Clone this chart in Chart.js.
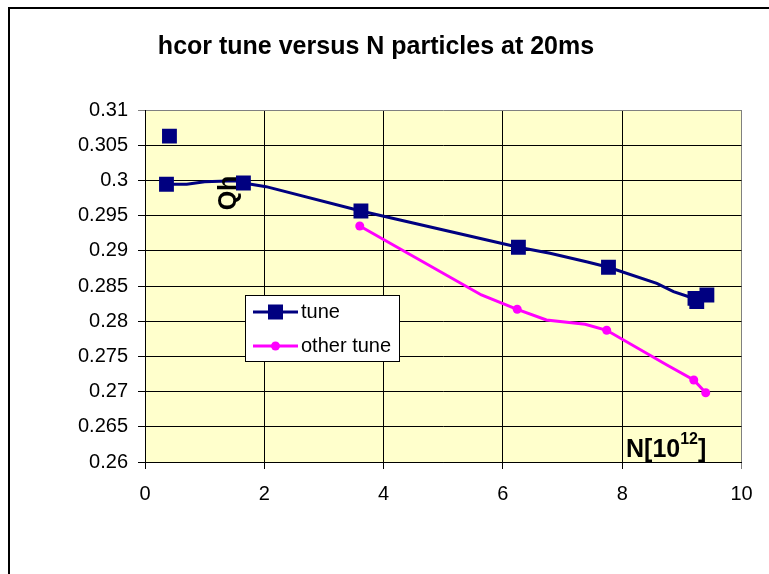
<!DOCTYPE html>
<html>
<head>
<meta charset="utf-8">
<title>hcor tune versus N particles at 20ms</title>
<script src="https://cdn.jsdelivr.net/npm/chart.js@4.4.1/dist/chart.umd.min.js"></script>
<style>
  html, body { margin: 0; padding: 0; background: #fff; overflow: hidden; }
</style>
</head>
<body>
<canvas id="tune-chart" width="769" height="574"></canvas>
<script>
// measured points (N in 1e12, Qh)
const tuneN = [0.41, 0.36, 1.65, 3.62, 6.26, 7.77, 9.22, 9.25, 9.42];
const tuneQ = [0.30628, 0.29945, 0.29963, 0.29565, 0.29050, 0.28766, 0.28325, 0.28277, 0.28372];
const otherN = [3.60, 6.24, 7.74, 9.20, 9.40];
const otherQ = [0.29352, 0.28169, 0.27871, 0.27165, 0.26984];

// connecting traces
const tuneTraceN = [0.36, 0.70, 1.00, 1.51, 1.65, 2.03, 3.62, 6.26, 6.79, 7.40, 7.77, 8.58, 8.86, 9.13];
const tuneTraceQ = [0.29945, 0.29947, 0.29982, 0.29996, 0.29963, 0.29911, 0.29565, 0.29050, 0.28964, 0.28845, 0.28766, 0.28538, 0.28419, 0.28344];
const otherTraceN = [3.60, 5.64, 6.24, 6.73, 7.38, 7.74, 8.75, 9.20, 9.40];
const otherTraceQ = [0.29352, 0.28372, 0.28169, 0.28017, 0.27956, 0.27871, 0.27378, 0.27165, 0.26984];

const xTicks = [0, 2, 4, 6, 8, 10];
const yTicks = [0.26, 0.265, 0.27, 0.275, 0.28, 0.285, 0.29, 0.295, 0.3, 0.305, 0.31];

const NAVY = '#000080';
const PINK = '#FF00FF';
const FONT = 'Liberation Sans, Arial, sans-serif';

const pts = (xs, ys) => xs.map((x, i) => ({ x: x, y: ys[i] }));

const datasets = [
  {
    label: 'tune-trace',
    data: pts(tuneTraceN, tuneTraceQ),
    showLine: true,
    borderColor: NAVY,
    borderWidth: 3,
    pointRadius: 0,
    tension: 0
  },
  {
    label: 'other-trace',
    data: pts(otherTraceN, otherTraceQ),
    showLine: true,
    borderColor: PINK,
    borderWidth: 3,
    pointRadius: 0,
    tension: 0
  },
  {
    label: 'tune',
    data: pts(tuneN, tuneQ),
    showLine: false,
    pointStyle: 'rect',
    pointRadius: 10.5,
    backgroundColor: NAVY,
    borderColor: NAVY,
    borderWidth: 0,
    legendEntry: true
  },
  {
    label: 'other tune',
    data: pts(otherN, otherQ),
    showLine: false,
    pointStyle: 'circle',
    pointRadius: 4.5,
    backgroundColor: PINK,
    borderColor: PINK,
    borderWidth: 0,
    legendEntry: true
  }
];

// white page, outer frame and yellow plot area
const backdrop = {
  id: 'backdrop',
  beforeDraw(chart) {
    const { ctx, chartArea: a } = chart;
    ctx.save();
    ctx.fillStyle = '#fff';
    ctx.fillRect(0, 0, chart.width, chart.height);
    ctx.fillStyle = '#000';
    ctx.fillRect(8, 7, chart.width - 8, 2);
    ctx.fillRect(8, 7, 2, chart.height - 7);
    ctx.fillStyle = '#FFFFCC';
    ctx.fillRect(a.left, a.top, a.right - a.left, a.bottom - a.top);
    ctx.restore();
  }
};

// title, axis captions and the boxed legend
const labels = {
  id: 'labels',
  afterDraw(chart) {
    const ctx = chart.ctx;
    ctx.save();
    ctx.fillStyle = '#000';

    ctx.font = 'bold 25px ' + FONT;
    ctx.textAlign = 'center';
    ctx.textBaseline = 'alphabetic';
    ctx.fillText('hcor tune versus N particles at 20ms', 376, 54);

    ctx.save();
    ctx.translate(229.5, 193);
    ctx.rotate(-Math.PI / 2);
    ctx.textBaseline = 'middle';
    ctx.fillText('Qh', 0, 0);
    ctx.restore();

    ctx.textAlign = 'left';
    let x = 626;
    ctx.font = 'bold 25px ' + FONT;
    ctx.fillText('N[10', x, 457);
    x += ctx.measureText('N[10').width;
    ctx.font = 'bold 16px ' + FONT;
    ctx.fillText('12', x, 444);
    x += ctx.measureText('12').width;
    ctx.font = 'bold 25px ' + FONT;
    ctx.fillText(']', x, 457);

    // legend box
    ctx.fillStyle = '#fff';
    ctx.fillRect(245.5, 295.5, 154, 66);
    ctx.strokeStyle = '#000';
    ctx.lineWidth = 1;
    ctx.strokeRect(245.5, 295.5, 154, 66);

    let rowY = 312;
    chart.data.datasets.filter(d => d.legendEntry).forEach(d => {
      ctx.strokeStyle = d.borderColor;
      ctx.lineWidth = 3;
      ctx.beginPath();
      ctx.moveTo(253, rowY);
      ctx.lineTo(298, rowY);
      ctx.stroke();
      ctx.fillStyle = d.backgroundColor;
      if (d.pointStyle === 'rect') {
        ctx.fillRect(268, rowY - 7.5, 15, 15);
      } else {
        ctx.beginPath();
        ctx.arc(275.5, rowY, d.pointRadius, 0, Math.PI * 2);
        ctx.fill();
      }
      ctx.fillStyle = '#000';
      ctx.font = '20px ' + FONT;
      ctx.textBaseline = 'middle';
      ctx.fillText(d.label, 301, rowY);
      rowY += 34;
    });
    ctx.restore();
  }
};

const edgeGray = (edge) => (c) => (c.tick && Math.abs(c.tick.value - edge) < 1e-9) ? '#808080' : '#000';

new Chart(document.getElementById('tune-chart'), {
  type: 'scatter',
  data: { datasets: datasets },
  options: {
    responsive: false,
    animation: false,
    devicePixelRatio: 1,
    layout: { padding: { top: 110, right: 27.5, left: 0, bottom: 0 } },
    plugins: {
      legend: { display: false },
      title: { display: false },
      tooltip: { enabled: false }
    },
    scales: {
      x: {
        type: 'linear',
        min: xTicks[0],
        max: xTicks[xTicks.length - 1],
        afterBuildTicks: (s) => { s.ticks = xTicks.map(v => ({ value: v })); },
        afterFit: (s) => { s.height = 112; },
        ticks: { color: '#000', font: { family: FONT, size: 20 }, padding: 13 },
        grid: { color: edgeGray(10), lineWidth: 1, tickLength: 7 },
        border: { color: '#000', width: 1 }
      },
      y: {
        type: 'linear',
        min: yTicks[0],
        max: yTicks[yTicks.length - 1],
        afterBuildTicks: (s) => { s.ticks = yTicks.map(v => ({ value: v })); },
        afterFit: (s) => { s.width = 145; },
        ticks: {
          color: '#000',
          font: { family: FONT, size: 20 },
          padding: 10,
          callback: (v) => String(Number(v.toFixed(3)))
        },
        grid: { color: edgeGray(0.31), lineWidth: 1, tickLength: 7 },
        border: { color: '#000', width: 1 }
      }
    }
  },
  plugins: [backdrop, labels]
});
</script>
</body>
</html>
